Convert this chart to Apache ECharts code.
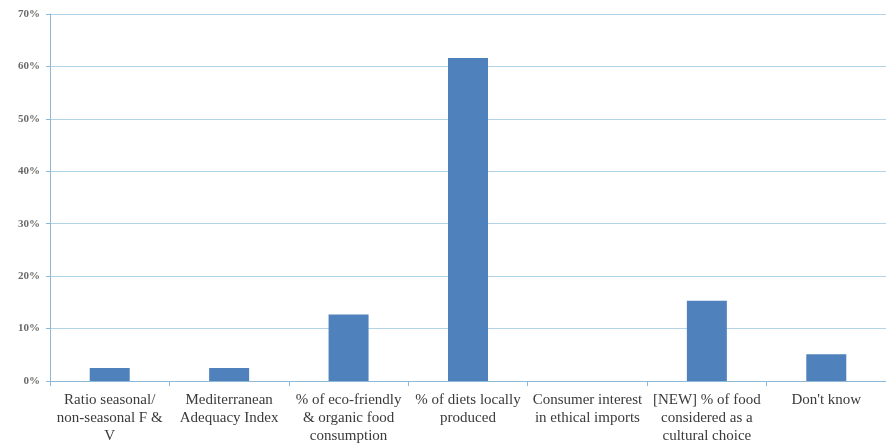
<!DOCTYPE html>
<html>
<head>
<meta charset="utf-8">
<script src="https://cdn.jsdelivr.net/npm/echarts@6/dist/echarts.min.js"></script>
<style>html,body{margin:0;padding:0;background:#fff}#c{width:886px;height:445px}</style>
</head>
<body>
<div id="c"></div>
<script>
const categories = [
  "Ratio seasonal/\nnon-seasonal F &\nV",
  "Mediterranean\nAdequacy Index",
  "% of eco-friendly\n& organic food\nconsumption",
  "% of diets locally\nproduced",
  "Consumer interest\nin ethical imports",
  "[NEW] % of food\nconsidered as a\ncultural choice",
  "Don't know"
];
const values = [2.5, 2.5, 12.7, 61.6, 0, 15.3, 5.1];
const yTicks = [0, 10, 20, 30, 40, 50, 60, 70];

const chart = echarts.init(document.getElementById('c'));
chart.setOption({
  animation: false,
  backgroundColor: '#ffffff',
  grid: { left: 50, right: 0, top: 14, bottom: 63, containLabel: false },
  xAxis: {
    type: 'category',
    data: categories,
    axisLine: { lineStyle: { color: '#8db8d6', width: 1 } },
    axisTick: { show: true, length: 5, lineStyle: { color: '#8db8d6' } },
    axisLabel: {
      interval: 0,
      margin: 10,
      fontFamily: 'Liberation Serif, DejaVu Serif, serif',
      fontSize: 15,
      lineHeight: 18,
      color: '#3a3a3a'
    }
  },
  yAxis: {
    type: 'value',
    min: yTicks[0],
    max: yTicks[yTicks.length - 1],
    interval: 10,
    axisLine: { show: true, lineStyle: { color: '#8db8d6', width: 1 } },
    axisTick: { show: true, length: 4, lineStyle: { color: '#8db8d6' } },
    splitLine: { lineStyle: { color: '#b3d3e6', width: 1 } },
    axisLabel: {
      margin: 10,
      fontFamily: 'Liberation Serif, DejaVu Serif, serif',
      fontSize: 11,
      fontWeight: 'bold',
      color: '#6a6a6a',
      formatter: v => v + '%'
    }
  },
  series: [{
    type: 'bar',
    data: values,
    barWidth: 40,
    itemStyle: { color: '#4f81bd' }
  }]
});
</script>
</body>
</html>
